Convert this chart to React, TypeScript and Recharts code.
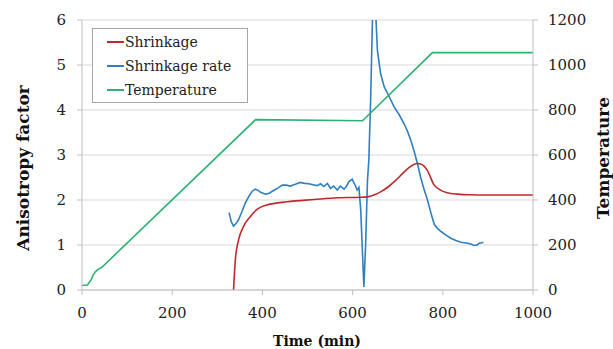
import { LineChart, Line, XAxis, YAxis, CartesianGrid, Label } from 'recharts'

// ── Data ───────────────────────────────────────────────────────────────
const xTicks = [0, 200, 400, 600, 800, 1000]
const leftTicks = [0, 1, 2, 3, 4, 5, 6]
const rightTicks = [0, 200, 400, 600, 800, 1000, 1200]

const shrinkTime = [336, 340, 347, 358, 373, 388, 410, 455, 514, 566, 618, 633, 650, 662, 680, 696, 710, 725, 744, 755, 765, 781, 795, 810, 833, 860, 892, 950, 1000]
const shrinkVal = [0, 0.67, 1.11, 1.41, 1.63, 1.79, 1.89, 1.96, 2.01, 2.05, 2.06, 2.07, 2.12, 2.18, 2.3, 2.44, 2.58, 2.72, 2.81, 2.78, 2.67, 2.33, 2.22, 2.16, 2.13, 2.115, 2.11, 2.11, 2.11]

const rateTime = [326, 331, 336, 341, 347, 355, 362, 370, 377, 384, 390, 396, 407, 415, 425, 435, 444, 453, 462, 473, 484, 494, 503, 512, 521, 529, 536, 544, 551, 558, 566, 573, 581, 586, 592, 599, 607, 610, 614, 618, 622, 625, 629, 633, 636, 640, 644, 647, 651, 655, 662, 670, 681, 692, 703, 714, 722, 729, 736, 744, 751, 758, 766, 774, 781, 788, 796, 807, 818, 829, 840, 848, 855, 862, 870, 876, 881, 886, 890]
const rateVal = [1.72, 1.52, 1.42, 1.47, 1.56, 1.75, 1.93, 2.08, 2.19, 2.24, 2.22, 2.17, 2.13, 2.15, 2.21, 2.27, 2.33, 2.33, 2.31, 2.35, 2.39, 2.37, 2.36, 2.34, 2.32, 2.36, 2.3, 2.37, 2.26, 2.31, 2.22, 2.31, 2.24, 2.3, 2.41, 2.46, 2.3, 2.22, 2.28, 1.78, 0.8, 0.07, 1.04, 2.44, 2.89, 4.22, 6.0, 6.7, 6.2, 5.33, 4.81, 4.52, 4.3, 4.07, 3.9, 3.7, 3.52, 3.33, 3.1, 2.8, 2.5, 2.25, 2.0, 1.7, 1.46, 1.37, 1.3, 1.22, 1.15, 1.1, 1.06, 1.05, 1.04, 1.02, 0.99, 1.0, 1.04, 1.05, 1.06]

const tempTime = [0, 12, 20, 25, 30, 36, 44, 385, 622, 777, 1000]
const tempVal = [20, 22, 45, 67, 82, 92, 101, 757, 752, 1055, 1055]

const seriesNames = ['Shrinkage', 'Shrinkage rate', 'Temperature']
const seriesColors = ['#C0282E', '#2F7FC1', '#2FB171']

const zip = (ts: number[], vs: number[]) => ts.map((t, i) => ({ t, v: vs[i] }))

const FONT = '"DejaVu Serif", serif'
const AXIS = '#BFBFBF'
const tickStyle = { fill: '#222', fontSize: 15, fontFamily: FONT }

export default function App() {
  const shrink = zip(shrinkTime, shrinkVal)
  const rate = zip(rateTime, rateVal)
  const temp = zip(tempTime, tempVal)

  return (
    <div style={{ position: 'absolute', left: 0, top: 0, width: 613, height: 349, background: '#fff' }}>
      <LineChart width={613} height={349} margin={{ top: 20, right: 20, bottom: 29, left: 22 }}>
        <CartesianGrid yAxisId="left" vertical={false} stroke="#D9D9D9" />
        <XAxis
          dataKey="t"
          type="number"
          domain={[0, 1000]}
          ticks={xTicks}
          height={30}
          stroke={AXIS}
          tickSize={5}
          tickMargin={12}
          tick={tickStyle}
        >
          <Label
            content={() => (
              <text x={317} y={346} textAnchor="middle" fontFamily={FONT} fontWeight="bold" fontSize={14} fill="#111">
                Time (min)
              </text>
            )}
          />
        </XAxis>
        <YAxis
          yAxisId="left"
          type="number"
          domain={[0, 6]}
          ticks={leftTicks}
          allowDataOverflow
          width={60}
          stroke={AXIS}
          tickSize={5}
          tickMargin={11}
          tick={tickStyle}
        >
          <Label
            content={() => (
              <text
                x={23}
                y={168}
                transform="rotate(-90 23 168)"
                textAnchor="middle"
                dominantBaseline="central"
                fontFamily={FONT}
                fontWeight="bold"
                fontSize={17}
                fill="#111"
              >
                Anisotropy factor
              </text>
            )}
          />
        </YAxis>
        <YAxis
          yAxisId="right"
          orientation="right"
          type="number"
          domain={[0, 1200]}
          ticks={rightTicks}
          width={60}
          stroke={AXIS}
          tickSize={5}
          tickMargin={10}
          tick={tickStyle}
        >
          <Label
            content={() => (
              <text
                x={603}
                y={158}
                transform="rotate(-90 603 158)"
                textAnchor="middle"
                dominantBaseline="central"
                fontFamily={FONT}
                fontWeight="bold"
                fontSize={17}
                fill="#111"
              >
                Temperature
              </text>
            )}
          />
        </YAxis>
        <Line
          yAxisId="left"
          data={rate}
          dataKey="v"
          type="linear"
          stroke={seriesColors[1]}
          strokeWidth={1.6}
          dot={false}
          isAnimationActive={false}
        />
        <Line
          yAxisId="left"
          data={shrink}
          dataKey="v"
          type="monotone"
          stroke={seriesColors[0]}
          strokeWidth={1.6}
          dot={false}
          isAnimationActive={false}
        />
        <Line
          yAxisId="right"
          data={temp}
          dataKey="v"
          type="linear"
          stroke={seriesColors[2]}
          strokeWidth={1.6}
          dot={false}
          isAnimationActive={false}
        />
      </LineChart>
      <div
        style={{
          position: 'absolute',
          left: 92,
          top: 28,
          width: 154,
          height: 72,
          border: '1px solid #A6A6A6',
          background: '#fff',
          fontFamily: FONT,
          fontSize: 14,
          color: '#222',
          paddingTop: 1,
        }}
      >
        {seriesNames.map((name, i) => (
          <div key={name} style={{ display: 'flex', alignItems: 'center', height: 24, paddingLeft: 14 }}>
            <span style={{ display: 'inline-block', width: 17, height: 2, background: seriesColors[i] }} />
            <span style={{ marginLeft: 1 }}>{name}</span>
          </div>
        ))}
      </div>
    </div>
  )
}
